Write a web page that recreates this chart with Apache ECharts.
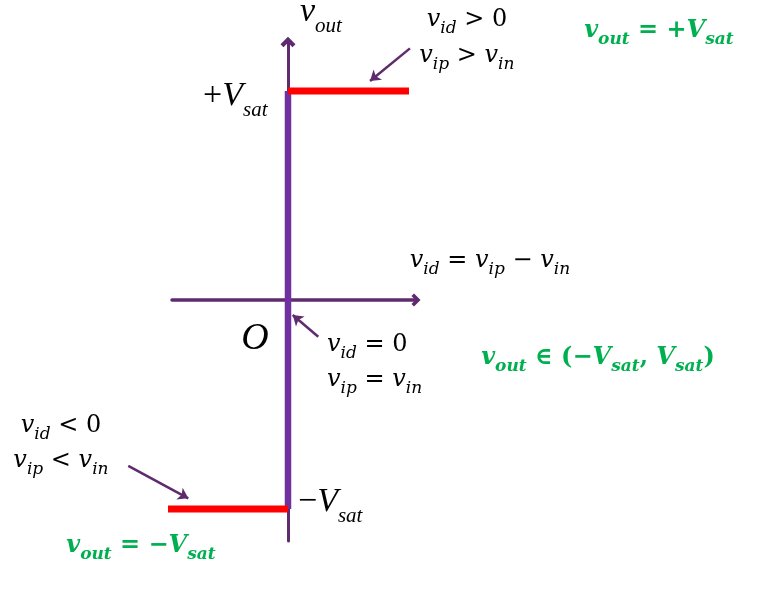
<!DOCTYPE html>
<html><head><meta charset="utf-8">
<script src="https://cdn.jsdelivr.net/npm/echarts@6/dist/echarts.min.js"></script>
<style>html,body{margin:0;padding:0;background:#fff}#c{width:758px;height:598px}</style>
</head><body><div id="c"></div>
<script>
// Ideal op-amp comparator transfer characteristic (v_out normalised to V_sat)
const negSat = [[-1.0, -1], [0, -1]];        // v_id < 0  -> v_out = -V_sat
const posSat = [[0, 1], [1.0, 1]];           // v_id > 0  -> v_out = +V_sat
const linearRegion = [[0, -1], [0, 1]];      // v_id = 0  -> v_out in (-V_sat, V_sat)
const xRange = [-0.9587, 1.0579];
const yRange = [-1.1531, 1.2344];
// annotation pointers: [from, to] in data units
const pointers = [
  [[1.008, 1.204], [0.678, 1.048]],
  [[0.250, -0.176], [0.039, -0.072]],
  [[-1.320, -0.794], [-0.824, -0.949]]
];
// annotation text lines: anchor (data units), alignment, rich text
const annotationAt = [
  [1.479, 1.340], [1.479, 1.167], [1.669, 0.187], [0.322, -0.215], [0.322, -0.383],
  [-1.876, -0.603], [-1.876, -0.770], [3.066, 1.287], [2.562, -0.278], [-1.215, -1.177],
  [0.099, 1.378], [-0.702, 0.976], [0.083, -0.967], [-0.273, -0.187]
];
const annotationAlign = ['center','center','center','left','left','center','center','center','center','center','left','left','left','center'];
const annotationText = [
  '{v|v}{s|id}{o| > 0}',
  '{v|v}{s|ip}{o| > }{v|v}{s|in}',
  '{v|v}{s|id}{o| = }{v|v}{s|ip}{o| − }{v|v}{s|in}',
  '{v|v}{s|id}{o| = 0}',
  '{v|v}{s|ip}{o| = }{v|v}{s|in}',
  '{v|v}{s|id}{o| < 0}',
  '{v|v}{s|ip}{o| < }{v|v}{s|in}',
  '{gv|v}{gs|out}{go| = +}{gv|V}{gs|sat}',
  '{gv|v}{gs|out}{go| ∈ (−}{gv|V}{gs|sat}{go|, }{gv|V}{gs|sat}{go|)}',
  '{gv|v}{gs|out}{go| = −}{gv|V}{gs|sat}',
  '{tv|v}{ts|out}',
  '{to|+}{tv|V}{ts|sat}',
  '{to|−}{tv|V}{ts|sat}',
  '{tO|O}'
];

const AXIS = '#5E2B6F';
const PURPLE = '#7030A0';
const RED = '#FF0000';
const GREEN = '#00B050';
const SERIF = 'Liberation Serif, DejaVu Serif, serif';
const MATH = 'DejaVu Serif, serif';
const chevron = 'path://M6,0 L12,6 L9.6,8.4 L6,4.8 L2.4,8.4 L0,6 Z';

const rich = {
  v:  {fontFamily: MATH, fontStyle: 'italic', fontSize: 24, color: '#000'},
  s:  {fontFamily: MATH, fontStyle: 'italic', fontSize: 17, color: '#000', padding: [18, 0, 0, 0]},
  o:  {fontFamily: MATH, fontSize: 24, color: '#000'},
  gv: {fontFamily: MATH, fontStyle: 'italic', fontWeight: 'bold', fontSize: 24, color: GREEN},
  gs: {fontFamily: MATH, fontStyle: 'italic', fontWeight: 'bold', fontSize: 17, color: GREEN, padding: [18, 0, 0, 0]},
  go: {fontFamily: MATH, fontWeight: 'bold', fontSize: 24, color: GREEN},
  tv: {fontFamily: SERIF, fontStyle: 'italic', fontSize: 34, color: '#000'},
  ts: {fontFamily: SERIF, fontStyle: 'italic', fontSize: 21, color: '#000', padding: [29, 0, 0, 0]},
  to: {fontFamily: SERIF, fontSize: 34, color: '#000'},
  tO: {fontFamily: SERIF, fontStyle: 'italic', fontSize: 38, color: '#000'}
};

const labelData = annotationAt.map((p, i) => ({
  value: p,
  label: {show: true, position: [0, 0], align: annotationAlign[i], verticalAlign: 'middle',
          color: '#000', opacity: 1, textBorderWidth: 0,
          formatter: annotationText[i], rich: rich}
}));

const chart = echarts.init(document.getElementById('c'), null, {renderer: 'canvas'});
chart.setOption({
  animation: false,
  backgroundColor: '#fff',
  grid: {left: 172, top: 42, width: 244, height: 499, containLabel: false},
  xAxis: {
    type: 'value', min: xRange[0], max: xRange[1],
    splitLine: {show: false}, axisTick: {show: false}, axisLabel: {show: false},
    axisLine: {show: true, onZero: true, symbol: ['none', chevron], symbolSize: [13, 11],
               lineStyle: {color: AXIS, width: 3.5}}
  },
  yAxis: {
    type: 'value', min: yRange[0], max: yRange[1],
    splitLine: {show: false}, axisTick: {show: false}, axisLabel: {show: false},
    axisLine: {show: true, onZero: true, symbol: ['none', chevron], symbolSize: [15, 14],
               lineStyle: {color: AXIS, width: 3}}
  },
  series: [
    {type: 'line', data: linearRegion, showSymbol: false, clip: false, silent: true, z: 3,
     lineStyle: {color: PURPLE, width: 6.5, cap: 'butt'}},
    {type: 'line', data: negSat, showSymbol: false, clip: false, silent: true, z: 4,
     lineStyle: {color: RED, width: 7, cap: 'butt'}},
    {type: 'line', data: posSat, showSymbol: false, clip: false, silent: true, z: 4,
     lineStyle: {color: RED, width: 7, cap: 'butt'}},
    {type: 'lines', coordinateSystem: 'cartesian2d', silent: true, z: 5, clip: false,
     symbol: ['none', 'arrow'], symbolSize: 10,
     lineStyle: {color: AXIS, width: 2.5, opacity: 1, curveness: 0},
     data: pointers.map(p => ({coords: p}))},
    {type: 'scatter', data: labelData, symbol: 'circle', symbolSize: 0.1, clip: false, silent: true, z: 6,
     itemStyle: {color: 'rgba(0,0,0,0)'}}
  ]
});
</script></body></html>
